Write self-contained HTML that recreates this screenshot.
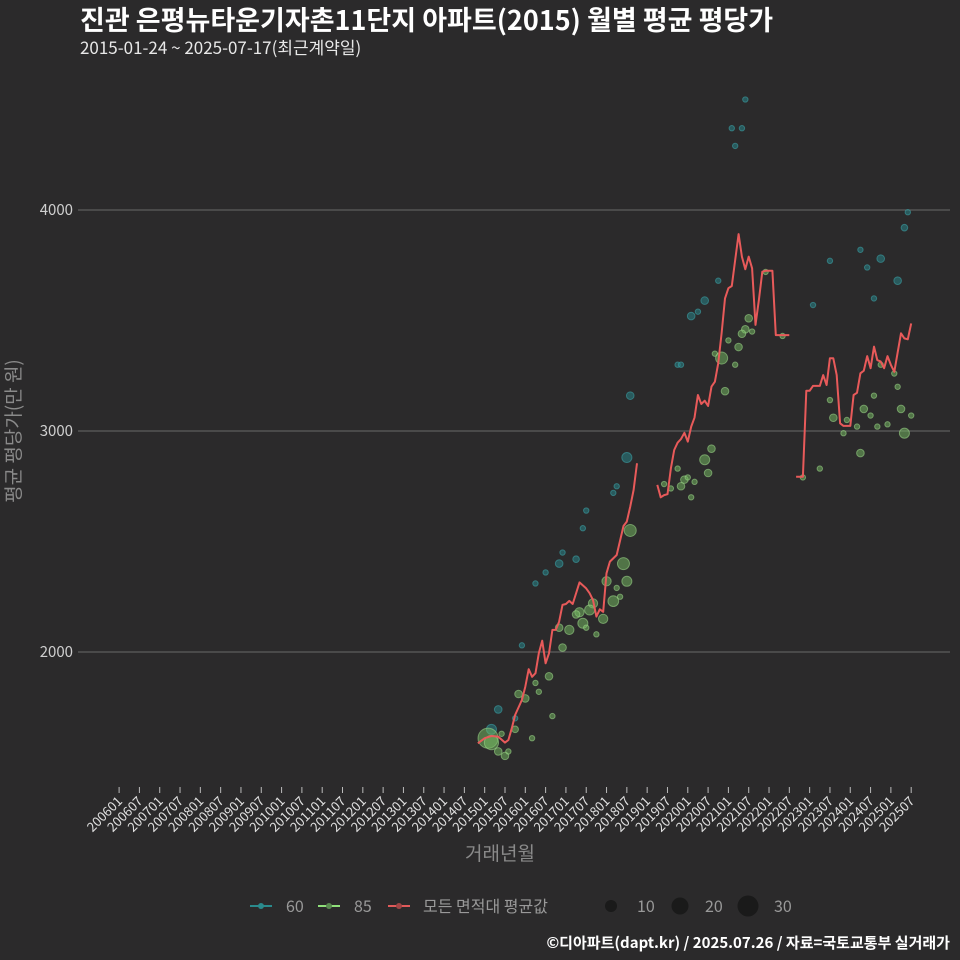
<!DOCTYPE html>
<html><head><meta charset="utf-8">
<style>
html,body{margin:0;padding:0;background:#2b2a2b;}
svg{display:block;font-family:"Noto Sans CJK KR","Liberation Sans",sans-serif;}
</style></head>
<body>
<svg id="chart" width="960" height="960" viewBox="0 0 960 960">
<rect x="0" y="0" width="960" height="960" fill="#2b2a2b"/>
<text x="80" y="30" font-size="27" font-weight="bold" fill="#ffffff">진관 은평뉴타운기자촌11단지 아파트(2015) 월별 평균 평당가</text>
<text x="80" y="54" font-size="17" fill="#e8e8e8">2015-01-24 ~ 2025-07-17(최근계약일)</text>
<g id="grid"></g>
<g id="yticks"></g>
<g id="xticks"></g>
<g id="bubbles60"></g>
<g id="bubbles85"></g>
<g id="avgline"></g>
<text x="20" y="431" font-size="19" fill="#8a8a8a" text-anchor="middle" transform="rotate(-90 20 431)">평균 평당가(만 원)</text>
<text x="500" y="860" font-size="19" fill="#8a8a8a" text-anchor="middle">거래년월</text>
<g>
 <g>
  <line x1="250" y1="906" x2="272" y2="906" stroke="#2a8a8c" stroke-width="2"/>
  <circle cx="261" cy="906" r="3" fill="#2a8a8c"/>
  <text x="286" y="912" font-size="16" fill="#999">60</text>
 </g>
 <g>
  <line x1="318" y1="906" x2="340" y2="906" stroke="#8fe07a" stroke-width="2"/>
  <circle cx="329" cy="906" r="3" fill="#5a8a50"/>
  <text x="354" y="912" font-size="16" fill="#999">85</text>
 </g>
 <g>
  <line x1="388" y1="906" x2="410" y2="906" stroke="#e05a5a" stroke-width="2"/>
  <circle cx="399" cy="906" r="3" fill="#a04545"/>
  <text x="423" y="912" font-size="16" fill="#999">모든 면적대 평균값</text>
 </g>
 <g>
  <circle cx="611" cy="906" r="6" fill="#1a1a1a"/>
  <text x="637" y="912" font-size="16" fill="#999">10</text>
 </g>
 <g>
  <circle cx="680" cy="906" r="8.5" fill="#1a1a1a"/>
  <text x="705" y="912" font-size="16" fill="#999">20</text>
 </g>
 <g>
  <circle cx="748" cy="906" r="10.5" fill="#1a1a1a"/>
  <text x="774" y="912" font-size="16" fill="#999">30</text>
 </g>
</g>
<text x="950" y="948" font-size="15" font-weight="bold" fill="#ffffff" text-anchor="end">©디아파트(dapt.kr) / 2025.07.26 / 자료=국토교통부 실거래가</text>
</svg>
<script>
const yTicks=[2000,3000,4000];
const avgMonths=["201411","201501","201503","201505","201507","201508","201509","201510","201512","201601","201602","201603","201604","201605","201606","201607","201608","201609","201610","201611","201612","201701","201702","201703","201705","201707","201708","201709","201710","201711","201712","201801","201802","201804","201806","201807","201808","201809","201810",
"gap",
"201904","201905","201906","201907","201908","201909","201910","201911","201912","202001","202002","202003","202004","202005","202006","202007","202008","202009","202010","202011","202012","202101","202102","202103","202104","202105","202106","202107","202108","202109","202110","202111","202112","202201","202202","202203","202204","202205","202206","202207",
"gap",
"202209","202211","202212","202301","202302","202303","202304","202305","202306","202307","202308","202309","202310","202311","202312","202401","202402","202403","202404","202405","202406","202407","202408","202409","202410","202411","202412","202501","202502","202503","202504","202505","202506","202507"];
const avgValues=[1587,1610,1620,1617,1590,1602,1655,1715,1783,1843,1922,1888,1904,1994,2051,1949,1994,2100,2100,2137,2213,2217,2231,2217,2315,2288,2266,2235,2160,2193,2182,2356,2409,2439,2570,2590,2657,2733,2854,
null,
2756,2700,2710,2714,2831,2914,2947,2964,2992,2952,3020,3060,3163,3122,3137,3113,3201,3223,3306,3442,3600,3646,3656,3774,3891,3789,3732,3789,3736,3480,3593,3721,3725,3725,3725,3434,3434,3434,3434,3434,
null,
2793,2793,3182,3182,3204,3204,3204,3253,3208,3329,3329,3253,3035,3023,3023,3023,3163,3173,3261,3273,3339,3284,3382,3321,3314,3284,3339,3299,3268,3354,3442,3419,3415,3487];
const s60Months=["201807","201804","201803","201707","201706","201612","201611","201704","201607","201604","201512","201505","201503","201510","202106","202102","202105","202103","202506","202505","202410","202404","202406","202503","202408","202307","202302","202010","202006","202004","202002","201910","201911","201808"];
const s60Values=[2880,2750,2720,2640,2560,2450,2400,2420,2360,2310,2030,1740,1650,1700,4500,4370,4370,4290,3990,3920,3780,3820,3740,3680,3600,3770,3570,3680,3590,3540,3520,3300,3300,3160];
const s60Counts=[7,2,2,2,2,2,4,3,2,2,2,4,7,2,2,2,2,2,2,3,4,2,2,4,2,2,2,2,4,2,4,2,2,4];
const s85Months=["201808","201806","201807","201801","201804","201805","201803","201709","201708","201705","201704","201706","201707","201712","201710","201702","201611","201612","201608","201604","201605","201511","201601","201609","201510","201603","201502","201503","201505","201507","201508","201506","202107","202106","202105","202108","202101","202104","202009","202011","202103","202012","202008","202006","202007","201910","201912","202001","201911","202003","201906","201908","202002","202112","202205","202211","202304","202307","202308","202312","202311","202403","202404","202405","202407","202408","202409","202412","202502","202503","202504","202505","202507","202410"];
const s85Values=[2550,2400,2320,2320,2290,2250,2230,2220,2190,2180,2170,2130,2110,2150,2080,2100,2110,2020,1890,1860,1820,1810,1790,1710,1650,1610,1610,1590,1550,1530,1550,1630,3510,3460,3440,3450,3410,3380,3350,3330,3300,3180,2920,2870,2810,2830,2780,2790,2750,2770,2760,2740,2700,3720,3430,2790,2830,3140,3060,3050,2990,3020,2900,3100,3070,3160,3020,3030,3260,3200,3100,2990,3070,3300];
const s85Counts=[10,10,7,6,2,2,8,6,7,6,4,7,2,6,2,6,4,4,4,2,2,4,4,2,3,2,28,14,4,4,2,2,4,4,4,2,2,4,2,10,2,4,4,7,4,2,4,2,4,2,2,2,2,2,2,2,2,2,4,2,2,2,4,4,2,2,2,2,2,2,4,7,2,2];

const NS="http://www.w3.org/2000/svg";
function monthIndex(s){return (parseInt(s.slice(0,4))-2006)*12+parseInt(s.slice(4,6))-1;}
function xScale(s){return 119.1+monthIndex(s)*3.385;}
function yScale(v){return 652-(v-2000)*0.221;}
function rScale(c){return 1.9*Math.sqrt(c);}
function mk(tag,attrs,parent){const e=document.createElementNS(NS,tag);for(const k in attrs)e.setAttribute(k,attrs[k]);parent.appendChild(e);return e;}

const grid=document.getElementById('grid'),yt=document.getElementById('yticks'),xt=document.getElementById('xticks');
yTicks.forEach(v=>{
 const l=mk('line',{x1:78,x2:950,y1:yScale(v),y2:yScale(v),stroke:'#6a6a6a','stroke-width':1},grid);
 
 
 const t=mk('text',{x:73,y:yScale(v)+5,'font-size':15,fill:'#cfcfcf','text-anchor':'end'},yt);
 t.textContent=v;
 
 
});
for(let y=2006;y<=2025;y++){for(const m of ["01","07"]){
 const s=y+m,x=xScale(s);
 const tk=mk('line',{x1:x,x2:x,y1:787,y2:793,stroke:'#bbb','stroke-width':1},xt);
 
 
 const t=mk('text',{x:x+4,y:802,'font-size':13,fill:'#e0e0e0','text-anchor':'end',transform:'rotate(-45 '+(x+4)+' 802)'},xt);
 t.textContent=s;
 
 
}}
function drawBubbles(g,months,vals,counts,fill,stroke,name){
 months.forEach((m,i)=>{
  const c=mk('circle',{cx:xScale(m),cy:yScale(vals[i]),r:rScale(counts[i]),fill:fill,stroke:stroke,'stroke-width':1},g);
  
  
 });
}
drawBubbles(document.getElementById('bubbles60'),s60Months,s60Values,s60Counts,'rgba(40,130,135,0.55)','rgba(60,160,165,0.6)','bubble-60');
drawBubbles(document.getElementById('bubbles85'),s85Months,s85Values,s85Counts,'rgba(120,190,100,0.5)','rgba(160,220,140,0.55)','bubble-85');
let d='',pen=false;
avgMonths.forEach((m,i)=>{
 if(avgValues[i]===null||m==='gap'){pen=false;return;}
 d+=(pen?'L':'M')+xScale(m).toFixed(1)+','+yScale(avgValues[i]).toFixed(1);
 pen=true;
});
const p=mk('path',{d:d,fill:'none',stroke:'#e85a5a','stroke-width':2,'stroke-linejoin':'round'},document.getElementById('avgline'));


</script>
</body></html>
